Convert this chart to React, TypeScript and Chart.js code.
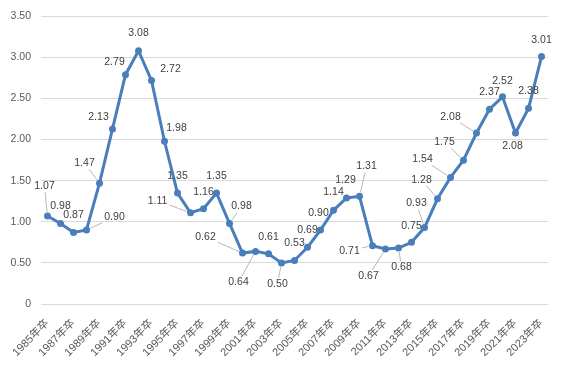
import React, { useEffect, useRef } from "react";
import { Chart, registerables } from "chart.js";

Chart.register(...registerables);

const years: number[] = [
  1985, 1986, 1987, 1988, 1989, 1990, 1991, 1992, 1993, 1994,
  1995, 1996, 1997, 1998, 1999, 2000, 2001, 2002, 2003, 2004,
  2005, 2006, 2007, 2008, 2009, 2010, 2011, 2012, 2013, 2014,
  2015, 2016, 2017, 2018, 2019, 2020, 2021, 2022, 2023,
];
const categories: string[] = years.map((y) => `${y}年卒`);

const ratios: number[] = [
  1.07, 0.98, 0.87, 0.9, 1.47, 2.13, 2.79, 3.08, 2.72, 1.98,
  1.35, 1.11, 1.16, 1.35, 0.98, 0.62, 0.64, 0.61, 0.5, 0.53,
  0.69, 0.9, 1.14, 1.29, 1.31, 0.71, 0.67, 0.68, 0.75, 0.93,
  1.28, 1.54, 1.75, 2.08, 2.37, 2.52, 2.08, 2.38, 3.01,
];

const yTicks: number[] = [0, 0.5, 1, 1.5, 2, 2.5, 3, 3.5];

// label placement (style only): offsets in px from the point, and whether a leader line is drawn
const labelDx: number[] = [
  -3, 0, 0, 28, -15, -14, -11, 0, 19, 12,
  0, -33, 0, 0, 12, -37, -17, 0, -4, 0,
  0, -2, 0, -1, 7, -23, -17, 3, 0, -8,
  -16, -28, -19, -26, 0, 0, -3, 0, 0,
];
const labelDy: number[] = [
  -30, -17, -17, -13, -20, -12, -13, -18, -11, -13,
  -17, -12, -17, -17, -17, -16, 31, -17, 21, -17,
  -17, -17, -18, -18, -30, 5, 27, 19, -16, -24,
  -19, -18, -18, -16, -17, -16, 13, -17, -16,
];
const leader: boolean[] = [
  true, false, false, true, true, false, false, false, false, false,
  false, true, false, false, true, true, true, false, true, false,
  false, false, false, false, true, true, true, true, false, true,
  true, true, true, true, false, false, false, false, false,
];

const FONT = "'Liberation Sans', 'Noto Sans CJK JP', sans-serif";

const labelPlugin = {
  id: "pointLabels",
  afterDatasetsDraw(chart: any) {
    const ctx = chart.ctx;
    const meta = chart.getDatasetMeta(0);
    ctx.save();
    ctx.font = `10.5px ${FONT}`;
    ctx.textAlign = "center";
    ctx.textBaseline = "middle";
    meta.data.forEach((pt: any, i: number) => {
      const text = ratios[i].toFixed(2);
      const cx = pt.x + labelDx[i];
      const cy = pt.y + labelDy[i];
      if (leader[i]) {
        const w = ctx.measureText(text).width;
        const hw = w / 2 + 2;
        const hh = 6;
        const vx = pt.x - cx;
        const vy = pt.y - cy;
        const len = Math.sqrt(vx * vx + vy * vy);
        if (len > 0) {
          const tx = vx !== 0 ? hw / Math.abs(vx) : Infinity;
          const ty = vy !== 0 ? hh / Math.abs(vy) : Infinity;
          const t = Math.min(tx, ty);
          const sx = cx + vx * t;
          const sy = cy + vy * t;
          const ex = pt.x - (vx / len) * 4;
          const ey = pt.y - (vy / len) * 4;
          if ((ex - sx) * vx + (ey - sy) * vy > 0) {
            ctx.strokeStyle = "#a6a6a6";
            ctx.lineWidth = 0.8;
            ctx.beginPath();
            ctx.moveTo(sx, sy);
            ctx.lineTo(ex, ey);
            ctx.stroke();
          }
        }
      }
      ctx.fillStyle = "#404040";
      ctx.fillText(text, cx, cy);
    });
    ctx.restore();
  },
};

export default function App() {
  const ref = useRef<HTMLCanvasElement | null>(null);
  useEffect(() => {
    if (!ref.current) return;
    const chart = new Chart(ref.current, {
      type: "line",
      data: {
        labels: categories,
        datasets: [
          {
            data: ratios,
            borderColor: "#4a7ebb",
            backgroundColor: "#4a7ebb",
            borderWidth: 3,
            pointRadius: 3.5,
            pointBackgroundColor: "#4a7ebb",
            pointBorderColor: "#4a7ebb",
            pointBorderWidth: 0,
            tension: 0,
          },
        ],
      },
      options: {
        animation: false,
        responsive: false,
        maintainAspectRatio: false,
        layout: { padding: { top: 14, right: 18, left: 0, bottom: 0 } },
        plugins: { legend: { display: false }, tooltip: { enabled: false } },
        scales: {
          x: {
            offset: true,
            grid: { display: false, drawTicks: false },
            border: { display: false },
            ticks: {
              autoSkip: false,
              maxRotation: 45,
              minRotation: 45,
              color: "#595959",
              font: { size: 11, family: FONT },
              padding: 13,
              callback: (_v: any, i: number) => (i % 2 === 0 ? categories[i] : ""),
            },
            afterFit: (s: any) => {
              s.height = 62;
            },
          },
          y: {
            min: 0,
            max: 3.5,
            afterBuildTicks: (s: any) => {
              s.ticks = yTicks.map((v) => ({ value: v }));
            },
            grid: { color: "#d9d9d9", lineWidth: 1, drawTicks: false },
            border: { display: false },
            ticks: {
              color: "#595959",
              font: { size: 10.5, family: FONT },
              padding: 10,
              callback: (v: any) => (Number(v) === 0 ? "0" : Number(v).toFixed(2)),
            },
            afterFit: (s: any) => {
              s.width = 41;
            },
          },
        },
      },
      plugins: [labelPlugin],
    });
    return () => chart.destroy();
  }, []);
  return (
    <div style={{ position: "fixed", left: 0, top: 0, width: 566, height: 366, background: "#fff" }}>
      <canvas ref={ref} width={566} height={366} style={{ display: "block" }} />
    </div>
  );
}
